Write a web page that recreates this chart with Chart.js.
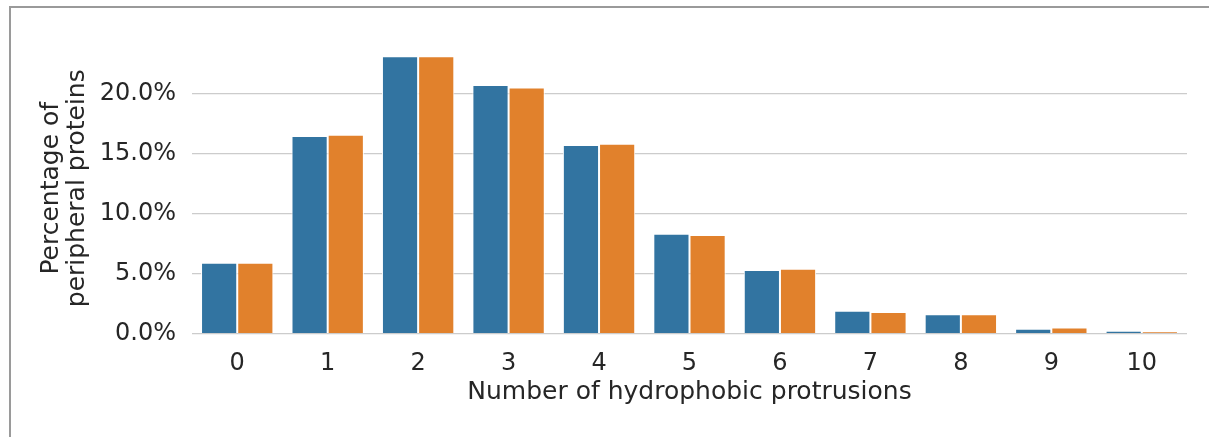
<!DOCTYPE html>
<html>
<head>
<meta charset="utf-8">
<script src="https://cdn.jsdelivr.net/npm/chart.js@4/dist/chart.umd.min.js"></script>
<style>
  html, body { margin: 0; padding: 0; background: #ffffff; }
  #frame {
    position: absolute; left: 9px; top: 6px;
    width: 1198px; height: 429px;
    border-top: 2px solid #9a9a9a; border-left: 2px solid #9a9a9a;
    background: #ffffff;
  }
  canvas { display: block; }
</style>
</head>
<body>
<div id="frame"><canvas id="chart" width="1198" height="429"></canvas></div>
<script>
// Number of hydrophobic protrusions per protein
const categories = ['0', '1', '2', '3', '4', '5', '6', '7', '8', '9', '10'];
// Share of peripheral proteins (%) for each count, two groups
const groupA = [5.9, 16.45, 23.1, 20.7, 15.7, 8.3, 5.3, 1.9, 1.6, 0.4, 0.22];
const groupB = [5.9, 16.55, 23.1, 20.5, 15.8, 8.2, 5.4, 1.8, 1.6, 0.5, 0.15];
const yTicks = [0, 5, 10, 15, 20];
const yMax = 24.2;

const textColor = '#262626';
const family = '"DejaVu Sans", sans-serif';

new Chart(document.getElementById('chart'), {
  type: 'bar',
  data: {
    labels: categories,
    datasets: [
      { label: 'Group A', data: groupA, backgroundColor: '#3274a1', borderColor: '#ffffff', borderWidth: 1, borderSkipped: 'start' },
      { label: 'Group B', data: groupB, backgroundColor: '#e1812c', borderColor: '#ffffff', borderWidth: 1, borderSkipped: 'start' }
    ]
  },
  options: {
    responsive: false,
    animation: false,
    devicePixelRatio: 1,
    layout: { padding: { left: 0, right: 22, top: 35, bottom: 26.5 } },
    plugins: { legend: { display: false }, tooltip: { enabled: false } },
    datasets: { bar: { categoryPercentage: 0.8, barPercentage: 1.0 } },
    scales: {
      x: {
        grid: { display: false, drawTicks: false },
        border: { display: false },
        ticks: { color: textColor, font: { family: family, size: 24 }, padding: 16, maxRotation: 0 },
        title: {
          display: true, text: 'Number of hydrophobic protrusions', color: textColor,
          font: { family: family, size: 25, lineHeight: 1.2 }, padding: { top: 0, bottom: 3 }
        },
        afterFit: (s) => { s.height = 77; }
      },
      y: {
        min: 0, max: yMax,
        grid: { color: '#cccccc', lineWidth: 1.25, drawTicks: false },
        border: { display: false },
        afterBuildTicks: (s) => { s.ticks = yTicks.map(v => ({ value: v })); },
        ticks: {
          color: textColor, font: { family: family, size: 24 }, padding: 16,
          callback: (v) => Number(v).toFixed(1) + '%'
        },
        title: {
          display: true, text: ['Percentage of', 'peripheral proteins'], color: textColor,
          font: { family: family, size: 25, lineHeight: 1.05 }, padding: { top: 27, bottom: 0 }
        },
        afterFit: (s) => { s.width = 181; }
      }
    }
  }
});
</script>
</body>
</html>
